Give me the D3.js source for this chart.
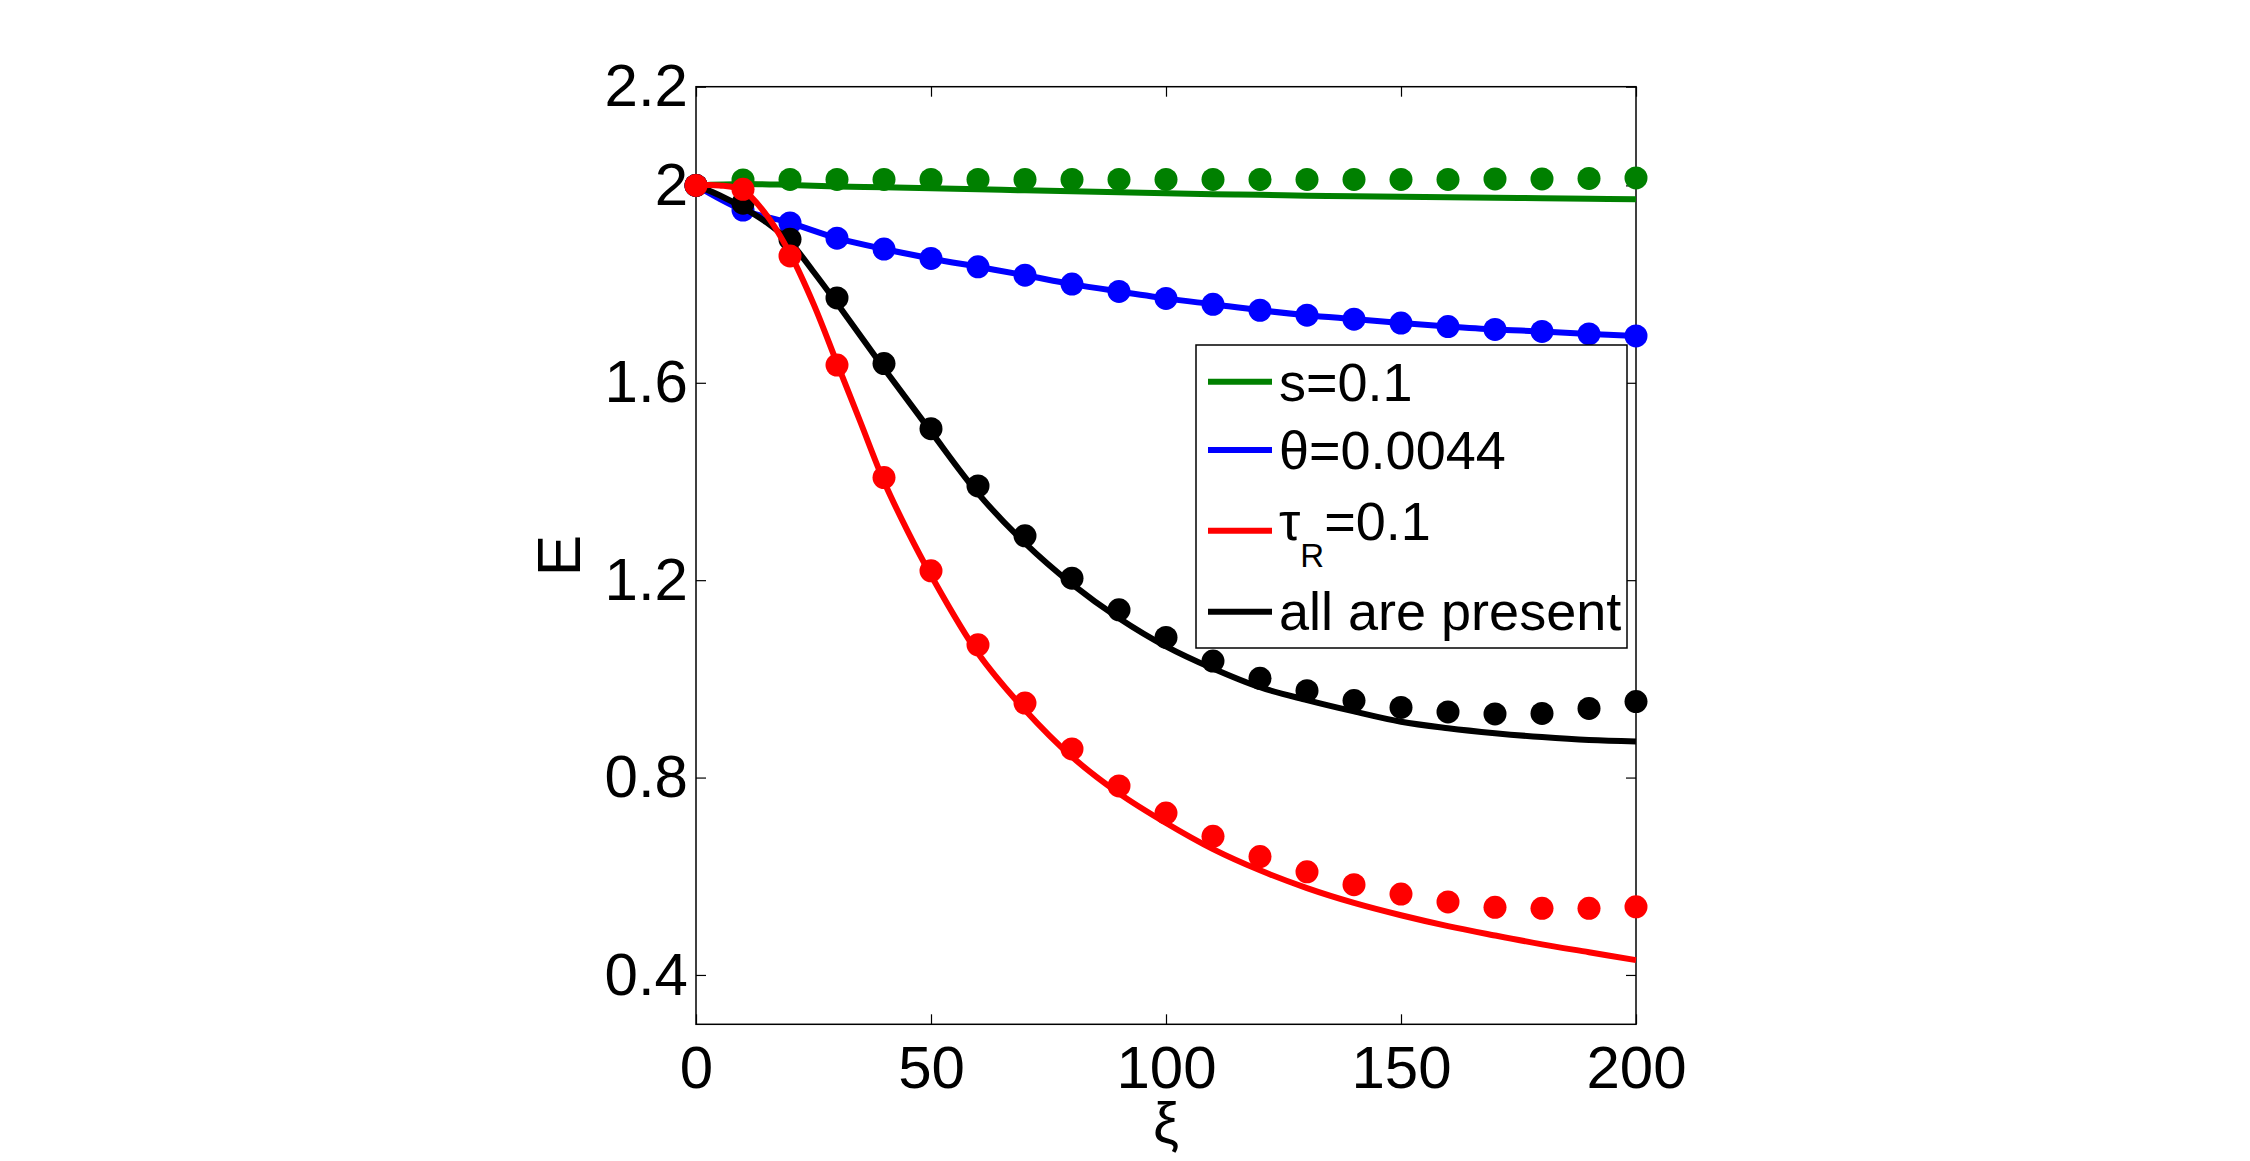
<!DOCTYPE html>
<html>
<head>
<meta charset="utf-8">
<script src="https://cdn.jsdelivr.net/npm/d3@7"></script>
<style>
  html, body { margin: 0; padding: 0; background: #fff; }
  svg { display: block; }
  text { font-family: "Liberation Sans", Arial, Helvetica, sans-serif; fill: #000; }
</style>
</head>
<body>
<svg id="chart" width="2250" height="1161"></svg>
<script>
// ---- data ----
const xTicks = [0, 50, 100, 150, 200];
const yTicks = [0.4, 0.8, 1.2, 1.6, 2.0, 2.2];
const xDomain = [0, 200];
const yDomain = [0.3, 2.2];

// marker positions (simulation points)
const xDots = [0, 10, 20, 30, 40, 50, 60, 70, 80, 90, 100, 110, 120, 130, 140, 150, 160, 170, 180, 190, 200];
const greenDots = [2.0, 2.011, 2.012, 2.012, 2.012, 2.012, 2.012, 2.012, 2.012, 2.012, 2.012, 2.012, 2.012, 2.012, 2.012, 2.012, 2.012, 2.013, 2.013, 2.014, 2.015];
const blueDots  = [2.0, 1.950, 1.924, 1.893, 1.871, 1.852, 1.835, 1.818, 1.800, 1.785, 1.771, 1.759, 1.747, 1.737, 1.729, 1.721, 1.714, 1.708, 1.704, 1.699, 1.695];
const blackDots = [2.0, 1.964, 1.891, 1.772, 1.639, 1.507, 1.391, 1.290, 1.204, 1.140, 1.084, 1.036, 1.001, 0.976, 0.956, 0.942, 0.933, 0.929, 0.930, 0.940, 0.954];
const redDots   = [2.0, 1.992, 1.857, 1.636, 1.408, 1.219, 1.069, 0.951, 0.858, 0.783, 0.728, 0.681, 0.640, 0.609, 0.583, 0.564, 0.548, 0.537, 0.535, 0.535, 0.538];

// theory curves
const xGreenLine = [0, 10, 20, 30, 40, 50, 60, 70, 80, 90, 100, 110, 120, 130, 140, 150, 160, 170, 180, 190, 200];
const greenLine  = [2.0, 2.003, 2.001, 1.998, 1.996, 1.994, 1.992, 1.990, 1.988, 1.986, 1.984, 1.982, 1.981, 1.979, 1.978, 1.977, 1.976, 1.975, 1.974, 1.973, 1.972];
const xBlueLine  = [0, 10, 20, 30, 40, 50, 60, 70, 80, 90, 100, 110, 120, 130, 140, 150, 160, 170, 180, 190, 200];
const blueLine   = [2.0, 1.950, 1.924, 1.893, 1.871, 1.852, 1.835, 1.818, 1.800, 1.785, 1.771, 1.759, 1.747, 1.737, 1.729, 1.721, 1.714, 1.708, 1.704, 1.699, 1.695];
const xBlackLine = [0, 5, 10, 15, 20, 25, 30, 40, 50, 60, 70, 80, 90, 100, 110, 120, 130, 140, 150, 160, 170, 180, 190, 200];
const blackLine  = [2.0, 1.980, 1.955, 1.925, 1.885, 1.825, 1.761, 1.629, 1.501, 1.376, 1.275, 1.192, 1.123, 1.066, 1.021, 0.983, 0.957, 0.934, 0.913, 0.900, 0.890, 0.882, 0.876, 0.873];
const xRedLine   = [0, 5, 10, 15, 20, 25, 30, 35, 40, 45, 50, 60, 70, 80, 90, 100, 110, 120, 130, 140, 150, 160, 170, 180, 190, 200];
const redLine    = [2.0, 2.0, 1.990, 1.940, 1.862, 1.760, 1.640, 1.520, 1.400, 1.300, 1.210, 1.052, 0.937, 0.842, 0.768, 0.708, 0.655, 0.612, 0.576, 0.546, 0.521, 0.499, 0.480, 0.462, 0.446, 0.430];

const seriesNames  = ["s=0.1", "θ=0.0044", "τR=0.1", "all are present"];
const seriesColors = ["#008000", "#0000ff", "#ff0000", "#000000"];

// ---- layout ----
const svg = d3.select("#chart");
const L = 696, R = 1636, T = 86.7, B = 1024.3;
const x = d3.scaleLinear().domain(xDomain).range([L, R]);
const y = d3.scaleLinear().domain(yDomain).range([B, T]);

const fmt = d => String(+d.toFixed(2));

// axes
const gLeft = svg.append("g").attr("transform", `translate(${L},0)`)
  .call(d3.axisLeft(y).tickValues(yTicks).tickSize(-10).tickSizeOuter(0).tickPadding(8).tickFormat(fmt));
const gRight = svg.append("g").attr("transform", `translate(${R},0)`)
  .call(d3.axisRight(y).tickValues(yTicks).tickSize(-10).tickSizeOuter(0).tickFormat(""));
const gBottom = svg.append("g").attr("transform", `translate(0,${B})`)
  .call(d3.axisBottom(x).tickValues(xTicks).tickSize(-10).tickSizeOuter(0).tickPadding(21).tickFormat(fmt));
const gTop = svg.append("g").attr("transform", `translate(0,${T})`)
  .call(d3.axisTop(x).tickValues(xTicks).tickSize(-10).tickSizeOuter(0).tickFormat(""));
[gLeft, gRight, gBottom, gTop].forEach(g => {
  g.select(".domain").remove();
  g.selectAll(".tick line").attr("stroke", "#000").attr("stroke-width", 1.2);
  g.selectAll("text").style("font-size", "60px").attr("fill", "#000");
});
svg.append("rect").attr("x", L).attr("y", T).attr("width", R - L).attr("height", B - T)
  .attr("fill", "none").attr("stroke", "#000").attr("stroke-width", 1.5);

// axis labels
svg.append("text").attr("transform", `translate(580,${(T + B) / 2}) rotate(-90)`)
  .attr("text-anchor", "middle").style("font-size", "62px").text("E");
svg.append("text").attr("x", (L + R) / 2).attr("y", 1143)
  .attr("text-anchor", "middle").style("font-size", "58px").text("ξ");

// series
const line = d3.line().x(d => x(d[0])).y(d => y(d[1])).curve(d3.curveCatmullRom.alpha(0.5));
const series = [
  { color: seriesColors[0], lx: xGreenLine, ly: greenLine, dy: greenDots },
  { color: seriesColors[1], lx: xBlueLine, ly: blueLine, dy: blueDots },
  { color: seriesColors[3], lx: xBlackLine, ly: blackLine, dy: blackDots },
  { color: seriesColors[2], lx: xRedLine, ly: redLine, dy: redDots }
];
series.forEach(s => {
  svg.append("path").datum(s.lx.map((v, i) => [v, s.ly[i]]))
    .attr("d", line).attr("fill", "none").attr("stroke", s.color)
    .attr("stroke-width", 6).attr("stroke-linejoin", "round");
  svg.append("g").selectAll("circle").data(xDots.map((v, i) => [v, s.dy[i]]))
    .join("circle").attr("cx", d => x(d[0])).attr("cy", d => y(d[1]))
    .attr("r", 11.5).attr("fill", s.color);
});

// legend
const lg = svg.append("g");
lg.append("rect").attr("x", 1196).attr("y", 345).attr("width", 431).attr("height", 303)
  .attr("fill", "#fff").attr("stroke", "#000").attr("stroke-width", 1.5);
const rowLineY = [381.7, 450, 530.7, 611.7];
const rowBase = [401, 469.3, 540, 630];
seriesNames.forEach((name, i) => {
  lg.append("line").attr("x1", 1208).attr("x2", 1272).attr("y1", rowLineY[i]).attr("y2", rowLineY[i])
    .attr("stroke", seriesColors[i]).attr("stroke-width", 6);
  const t = lg.append("text").attr("x", 1279).attr("y", rowBase[i]).style("font-size", "54px");
  if (name === "τR=0.1") {
    t.append("tspan").text("τ");
    t.append("tspan").attr("dy", 27).style("font-size", "33px").text("R");
    t.append("tspan").attr("dy", -27).text("=0.1");
  } else {
    t.text(name);
  }
});
</script>
</body>
</html>
